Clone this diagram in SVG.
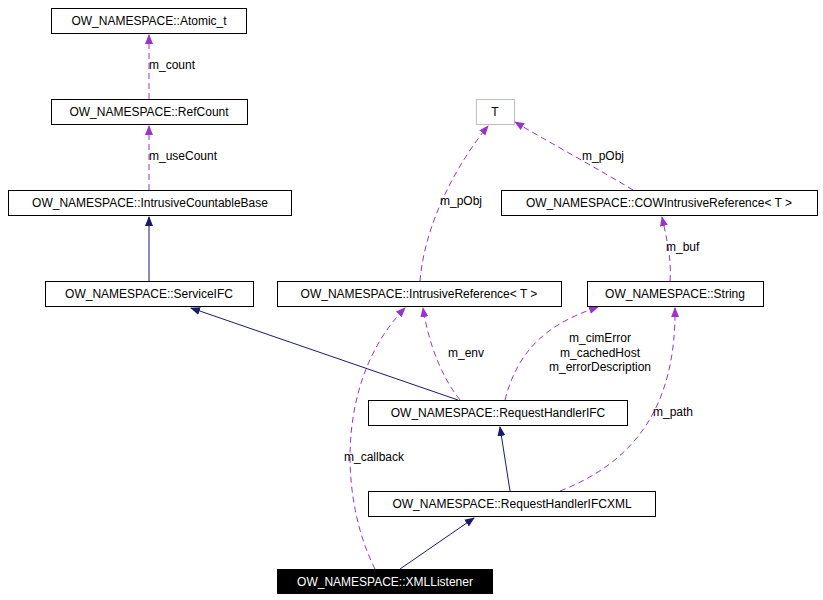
<svg xmlns="http://www.w3.org/2000/svg" width="823" height="600" viewBox="0 0 823 600">
<style>
text{font-family:"Liberation Sans",Arial,sans-serif;font-size:12px;fill:#000}
.n{fill:#fff;stroke:#000;stroke-width:1}
.d{fill:none;stroke:#9a32cd;stroke-width:1;stroke-dasharray:6,4}
.s{fill:none;stroke:#191970;stroke-width:1}
</style>
<defs>
<marker id="ap" markerWidth="10" markerHeight="10" refX="9" refY="5" orient="auto" markerUnits="userSpaceOnUse"><path d="M0,1 L10,5 L0,9 Z" fill="#9a32cd"/></marker>
<marker id="an" markerWidth="10" markerHeight="10" refX="9" refY="5" orient="auto" markerUnits="userSpaceOnUse"><path d="M0,1 L10,5 L0,9 Z" fill="#191970"/></marker>
</defs>
<rect width="823" height="600" fill="#fff"/>
<g id="connectors">
<path class="d" d="M149,99 L149,35" marker-end="url(#ap)"/>
<text x="149" y="69" dx="0">m_count</text>
<path class="d" d="M149,190 L149,126" marker-end="url(#ap)"/>
<text x="149" y="160">m_useCount</text>
<path class="s" d="M149,281 L149,217" marker-end="url(#an)"/>
<path class="s" d="M458,400 L191,308" marker-end="url(#an)"/>
<path class="s" d="M510,491 L500,427" marker-end="url(#an)"/>
<path class="s" d="M400,569 L474,518" marker-end="url(#an)"/>
<path class="d" d="M420,281 C425,220 460,160 488,126" marker-end="url(#ap)"/>
<text x="440" y="205">m_pObj</text>
<path class="d" d="M633,190 C600,170 545,140 515,122" marker-end="url(#ap)"/>
<text x="582" y="160">m_pObj</text>
<path class="d" d="M670,281 C672,260 666,235 662,217" marker-end="url(#ap)"/>
<text x="666" y="251">m_buf</text>
<path class="d" d="M460,400 C440,375 428,340 423,308" marker-end="url(#ap)"/>
<text x="448" y="357">m_env</text>
<path class="d" d="M505,400 C520,340 560,320 598,307" marker-end="url(#ap)"/>
<text x="600" y="342" text-anchor="middle">m_cimError</text>
<text x="600" y="357" text-anchor="middle">m_cachedHost</text>
<text x="600" y="371" text-anchor="middle">m_errorDescription</text>
<path class="d" d="M560,491 C640,460 676,400 675,308" marker-end="url(#ap)"/>
<text x="653" y="416">m_path</text>
<path class="d" d="M375,569 C340,500 335,380 405,308" marker-end="url(#ap)"/>
<text x="344" y="461">m_callback</text>
</g>
<g id="atomic"><rect class="n" x="51.5" y="8.5" width="195" height="25"/><text x="149" y="25" text-anchor="middle">OW_NAMESPACE::Atomic_t</text></g>
<g id="refcount"><rect class="n" x="51.5" y="99.5" width="196" height="25"/><text x="149" y="116" text-anchor="middle">OW_NAMESPACE::RefCount</text></g>
<g id="icb"><rect class="n" x="8.5" y="190.5" width="283" height="25"/><text x="150" y="207" text-anchor="middle">OW_NAMESPACE::IntrusiveCountableBase</text></g>
<g id="serviceifc"><rect class="n" x="45.5" y="281.5" width="208" height="25"/><text x="149" y="298" text-anchor="middle">OW_NAMESPACE::ServiceIFC</text></g>
<g id="t"><rect x="476.5" y="99.5" width="38" height="25" fill="#fff" stroke="#bfbfbf"/><text x="495" y="116" text-anchor="middle">T</text></g>
<g id="cow"><rect class="n" x="501.5" y="190.5" width="316" height="25"/><text x="659" y="207" text-anchor="middle">OW_NAMESPACE::COWIntrusiveReference&lt; T &gt;</text></g>
<g id="intref"><rect class="n" x="277.5" y="281.5" width="284" height="25"/><text x="419" y="298" text-anchor="middle">OW_NAMESPACE::IntrusiveReference&lt; T &gt;</text></g>
<g id="string"><rect class="n" x="587.5" y="281.5" width="176" height="25"/><text x="675" y="298" text-anchor="middle">OW_NAMESPACE::String</text></g>
<g id="rhifc"><rect class="n" x="368.5" y="400.5" width="259" height="25"/><text x="498" y="417" text-anchor="middle">OW_NAMESPACE::RequestHandlerIFC</text></g>
<g id="rhifcxml"><rect class="n" x="368.5" y="491.5" width="287" height="25"/><text x="512" y="508" text-anchor="middle">OW_NAMESPACE::RequestHandlerIFCXML</text></g>
<g id="xmllistener"><rect x="277.5" y="569.5" width="215" height="24" fill="#000" stroke="#000"/><text x="385" y="586" text-anchor="middle" style="fill:#fff">OW_NAMESPACE::XMLListener</text></g>
</svg>
